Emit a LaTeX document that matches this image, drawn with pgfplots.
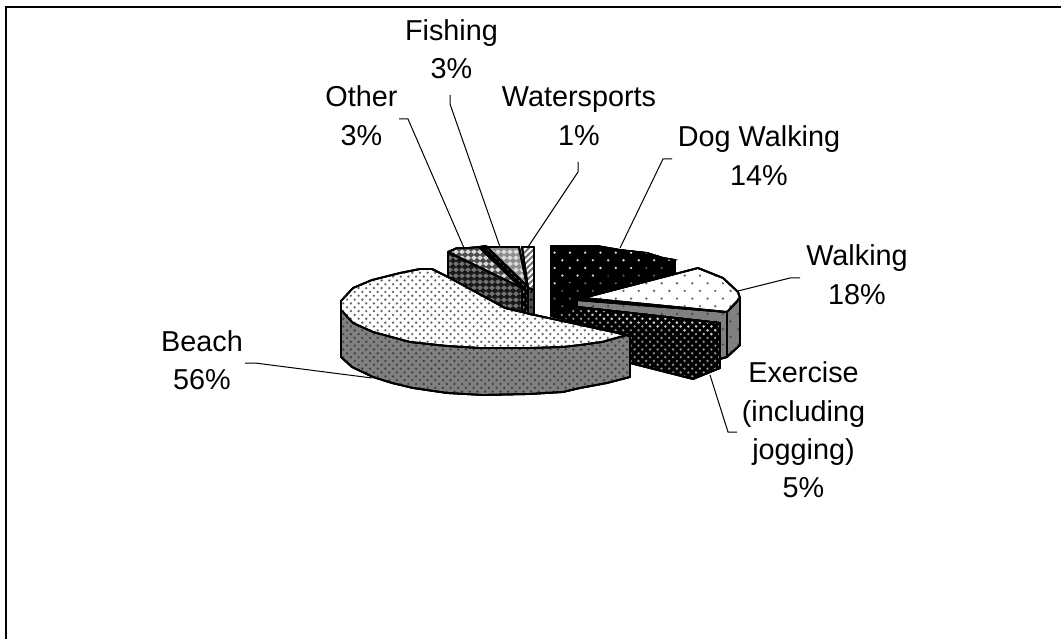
\documentclass[border=0pt]{standalone}
\usepackage{fontspec}
\setmainfont{Liberation Sans}
\usepackage{pgfplots}
\pgfplotsset{compat=1.18}
\usetikzlibrary{patterns}
% staggered dots, dense and sparse
\pgfdeclarepatternformonly{densedots}{\pgfpoint{-1pt}{-1pt}}{\pgfpoint{8.67pt}{8.67pt}}{\pgfpoint{7.67pt}{7.67pt}}{
  \pgfpathcircle{\pgfpoint{1.9pt}{1.9pt}}{1.3pt}
  \pgfpathcircle{\pgfpoint{5.75pt}{5.75pt}}{1.3pt}
  \pgfusepath{fill}}
\pgfdeclarepatternformonly{sparsedots}{\pgfpoint{-1pt}{-1pt}}{\pgfpoint{16.3pt}{16.3pt}}{\pgfpoint{15.3pt}{15.3pt}}{
  \pgfpathcircle{\pgfpoint{3.8pt}{3.8pt}}{1.3pt}
  \pgfpathcircle{\pgfpoint{11.5pt}{11.5pt}}{1.3pt}
  \pgfusepath{fill}}
\pgfdeclarepatternformonly{diamonds}{\pgfpoint{-1pt}{-1pt}}{\pgfpoint{7pt}{7pt}}{\pgfpoint{6pt}{6pt}}{
  \pgfpathmoveto{\pgfpoint{0pt}{0pt}}\pgfpathlineto{\pgfpoint{3pt}{3pt}}\pgfpathlineto{\pgfpoint{6pt}{0pt}}\pgfpathlineto{\pgfpoint{3pt}{-3pt}}\pgfpathclose
  \pgfpathmoveto{\pgfpoint{0pt}{6pt}}\pgfpathlineto{\pgfpoint{3pt}{9pt}}\pgfpathlineto{\pgfpoint{6pt}{6pt}}\pgfpathlineto{\pgfpoint{3pt}{3pt}}\pgfpathclose
  \pgfusepath{fill}}
\pgfdeclarepatternformonly{stripes}{\pgfpoint{-1pt}{-1pt}}{\pgfpoint{7pt}{7pt}}{\pgfpoint{6pt}{6pt}}{
  \pgfsetlinewidth{2pt}
  \pgfpathmoveto{\pgfpoint{-1pt}{-1pt}}\pgfpathlineto{\pgfpoint{7pt}{7pt}}\pgfusepath{stroke}}
\tikzset{
  face/.style n args={3}{draw=black,line width=1.8pt,line join=round,
    preaction={fill=#1},preaction={pattern=#2,pattern color=#3}},
  leader/.style={draw=black,line width=1pt},
  lab/.style={anchor=base,inner sep=0pt,text=black,font=\fontsize{28.8}{34}\selectfont}
}
\begin{document}
\begin{tikzpicture}
\useasboundingbox (0,0) rectangle (1061pt,639pt);
\begin{axis}[
  at={(0,0)},anchor=south west,
  width=1061pt,height=639pt,scale only axis,
  xmin=0,xmax=1061,ymin=0,ymax=639,y dir=reverse,
  hide axis,clip=false]
% frame
\addplot[draw=black,line width=1.6pt] coordinates {(6,639) (6,7) (1061,7)};
% Dog Walking
\addplot[face={black}{sparsedots}{gray!70!black}] coordinates {(551,246) (597,246) (620,250) (647,253) (663,258) (675,260) (675,273) (600,300) (563,312) (551,315)} --cycle;
\addplot[draw=black,fill=black,line width=1pt,preaction={fill=black},postaction={pattern=sparsedots,pattern color=white!85!black}] coordinates {(551,246) (597,246) (620,250) (647,253) (663,258) (675,260) (577,282) (551,288)} --cycle;
% Walking side
\addplot[face={gray}{sparsedots}{black!70}] coordinates {(577,300) (727,312) (740,298) (740,345) (727,357) (720,359) (720,323) (577,307)} --cycle;
\addplot[draw=black,line width=1.2pt] coordinates {(727,312) (727,357)};
% Walking top
\addplot[face={white}{sparsedots}{black!60}] coordinates {(583,298) (698,268) (723,278) (738,292) (740,298) (727,312)} --cycle;
% Exercise
\addplot[face={black}{densedots}{gray!85}] coordinates {(551,316) (577,307) (720,323) (720,368) (693,379) (630,363) (627,335)} --cycle;
\addplot[draw=none,postaction={pattern=densedots,pattern color=white!80!black}] coordinates {(580,309) (718,324) (716,336) (600,320)} --cycle;
% Other
\addplot[face={black!55}{diamonds}{black!90}] coordinates {(448,252) (522,288) (522,320) (448,285)} --cycle;
\addplot[face={black!15}{diamonds}{black!70}] coordinates {(448,252) (457,248) (468,248) (479,247) (525,291) (522,288)} --cycle;
% Fishing
\addplot[face={black}{densedots}{gray}] coordinates {(479,247) (486,246) (529,288) (530,320) (522,320) (522,288)} --cycle;
\addplot[face={black!15}{diamonds}{black!45}] coordinates {(487,247) (519,247) (527,286)} --cycle;
% Watersports
\addplot[face={black!70}{densedots}{black}] coordinates {(528,288) (534,290) (534,320) (528,320)} --cycle;
\addplot[face={white}{stripes}{black!55}] coordinates {(522,247) (534,247) (534,290) (528,288)} --cycle;
% Beach
\addplot[face={gray}{densedots}{black!75}] coordinates {(341,301) (341,357) (352,367) (373,377) (392,383) (413,388) (447,393) (483,395) (530,394) (563,392) (580,388) (607,383) (630,377) (630,337) (627,335) (530,320) (341,301)} --cycle;
\addplot[face={white}{densedots}{black!60}] coordinates {(341,301) (353,288) (372,280) (400,273) (420,269) (432,269) (448,277) (505,308) (530,314) (627,335) (602,342) (580,345) (563,347) (530,348) (480,348) (447,346) (410,342) (373,332) (353,323) (341,310)} --cycle;
% leaders
\addplot[leader] coordinates {(399,119) (408,119) (464,248)};
\addplot[leader] coordinates {(450,95) (450,104) (500,247)};
\addplot[leader] coordinates {(578,162) (578,172) (528,247)};
\addplot[leader] coordinates {(672,159) (663,159) (620,248)};
\addplot[leader] coordinates {(800,278) (790,278) (738,291)};
\addplot[leader] coordinates {(710,375) (728,432) (737,432)};
\addplot[leader] coordinates {(245,363) (255,363) (372,378)};
% labels
\node[lab] at (axis cs:451.5,41) {Fishing};
\node[lab] at (axis cs:451.5,79) {3\%};
\node[lab] at (axis cs:361.5,107) {Other};
\node[lab] at (axis cs:361.5,146) {3\%};
\node[lab] at (axis cs:579,107) {Watersports};
\node[lab] at (axis cs:579,146) {1\%};
\node[lab] at (axis cs:759,147) {Dog Walking};
\node[lab] at (axis cs:759,186) {14\%};
\node[lab] at (axis cs:857,266) {Walking};
\node[lab] at (axis cs:857,305) {18\%};
\node[lab] at (axis cs:803.5,382) {Exercise};
\node[lab] at (axis cs:803.5,421) {(including};
\node[lab] at (axis cs:803.5,459) {jogging)};
\node[lab] at (axis cs:803.5,497) {5\%};
\node[lab] at (axis cs:202,351) {Beach};
\node[lab] at (axis cs:202,389) {56\%};
\end{axis}
\end{tikzpicture}
\end{document}
